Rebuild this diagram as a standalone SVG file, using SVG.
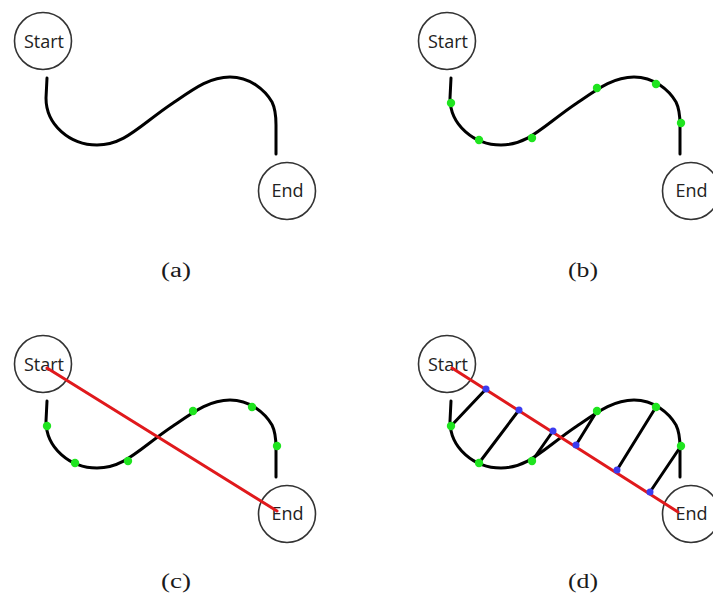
<svg xmlns="http://www.w3.org/2000/svg" width="713" height="599" viewBox="0 0 713 599">
<style>
.node circle{fill:#fff;stroke:#333;stroke-width:1.6}
.node text{font-family:"Open Sans","Liberation Sans",sans-serif;font-size:18px;fill:#222;text-anchor:middle}
.curve{fill:none;stroke:#000;stroke-width:3;stroke-linecap:round;stroke-linejoin:round}
.red{stroke:#e0191c;stroke-width:3;stroke-linecap:round}
.conn{stroke:#000;stroke-width:3;stroke-linecap:round}
.g{fill:#1fe41f}
.b{fill:#3c3cf0}
.lbl{font-family:"Liberation Serif","Times New Roman",serif;font-size:20px;fill:#1a1a1a;text-anchor:middle}
</style>
<defs>
<path id="wave" d="M47,78 L46,98 C46,125 70,145 97,145 C125,145 140,125 173,103 C195,88 210,77 230,77 C250,77 265,90 272,102 C276,110 276,120 276,125 L276,154"/>
<g id="greens">
<circle class="g" cx="47" cy="103" r="4.2"/>
<circle class="g" cx="75" cy="140" r="4.2"/>
<circle class="g" cx="128" cy="138" r="4.2"/>
<circle class="g" cx="193" cy="88" r="4.2"/>
<circle class="g" cx="252" cy="84" r="4.2"/>
<circle class="g" cx="277" cy="123" r="4.2"/>
</g>
</defs>

<!-- Panel (a) -->
<g id="panel-a">
<g id="connectors-a"><use href="#wave" class="curve"/></g>
<g id="a-start" class="node"><circle cx="43" cy="41" r="28.5"/><text x="44" y="48">Start</text></g>
<g id="a-end" class="node"><circle cx="287" cy="191" r="28.5"/><text x="287.5" y="197">End</text></g>
<text class="lbl" x="176" y="277" textLength="30" lengthAdjust="spacingAndGlyphs">(a)</text>
</g>

<!-- Panel (b) -->
<g id="panel-b" transform="translate(404,0)">
<g id="connectors-b"><use href="#wave" class="curve"/><use href="#greens"/></g>
<g id="b-start" class="node"><circle cx="43" cy="41" r="28.5"/><text x="44" y="48">Start</text></g>
<g id="b-end" class="node"><circle cx="287" cy="191" r="28.5"/><text x="287.5" y="197">End</text></g>
<text class="lbl" x="179" y="277" textLength="30" lengthAdjust="spacingAndGlyphs">(b)</text>
</g>

<!-- Panel (c) -->
<g id="panel-c" transform="translate(0,323)">
<g id="c-start" class="node"><circle cx="43" cy="41" r="28.5"/><text x="44" y="48">Start</text></g>
<g id="c-end" class="node"><circle cx="287" cy="191" r="28.5"/><text x="287.5" y="197">End</text></g>
<g id="connectors-c">
<use href="#wave" class="curve"/>
<use href="#greens"/>
<line class="red" x1="47" y1="45" x2="277" y2="188"/>
</g>
<text class="lbl" x="176" y="265" textLength="30" lengthAdjust="spacingAndGlyphs">(c)</text>
</g>

<!-- Panel (d) -->
<g id="panel-d" transform="translate(404,323)">
<g id="d-start" class="node"><circle cx="43" cy="41" r="28.5"/><text x="44" y="48">Start</text></g>
<g id="d-end" class="node"><circle cx="287" cy="191" r="28.5"/><text x="287.5" y="197">End</text></g>
<g id="connectors-d">
<use href="#wave" class="curve"/>
<line class="conn" x1="47" y1="103" x2="82" y2="66"/>
<line class="conn" x1="75" y1="140" x2="115" y2="87"/>
<line class="conn" x1="128" y1="138" x2="149" y2="108"/>
<line class="conn" x1="193" y1="88" x2="172" y2="122"/>
<line class="conn" x1="252" y1="84" x2="213" y2="147"/>
<line class="conn" x1="277" y1="123" x2="246" y2="169"/>
<line class="red" x1="48" y1="45" x2="274" y2="189"/>
<use href="#greens"/>
<circle class="b" cx="82" cy="66" r="3.5"/>
<circle class="b" cx="115" cy="87" r="3.5"/>
<circle class="b" cx="149" cy="108" r="3.5"/>
<circle class="b" cx="172" cy="122" r="3.5"/>
<circle class="b" cx="213" cy="147" r="3.5"/>
<circle class="b" cx="246" cy="169" r="3.5"/>
</g>
<text class="lbl" x="179" y="265" textLength="30" lengthAdjust="spacingAndGlyphs">(d)</text>
</g>
</svg>
